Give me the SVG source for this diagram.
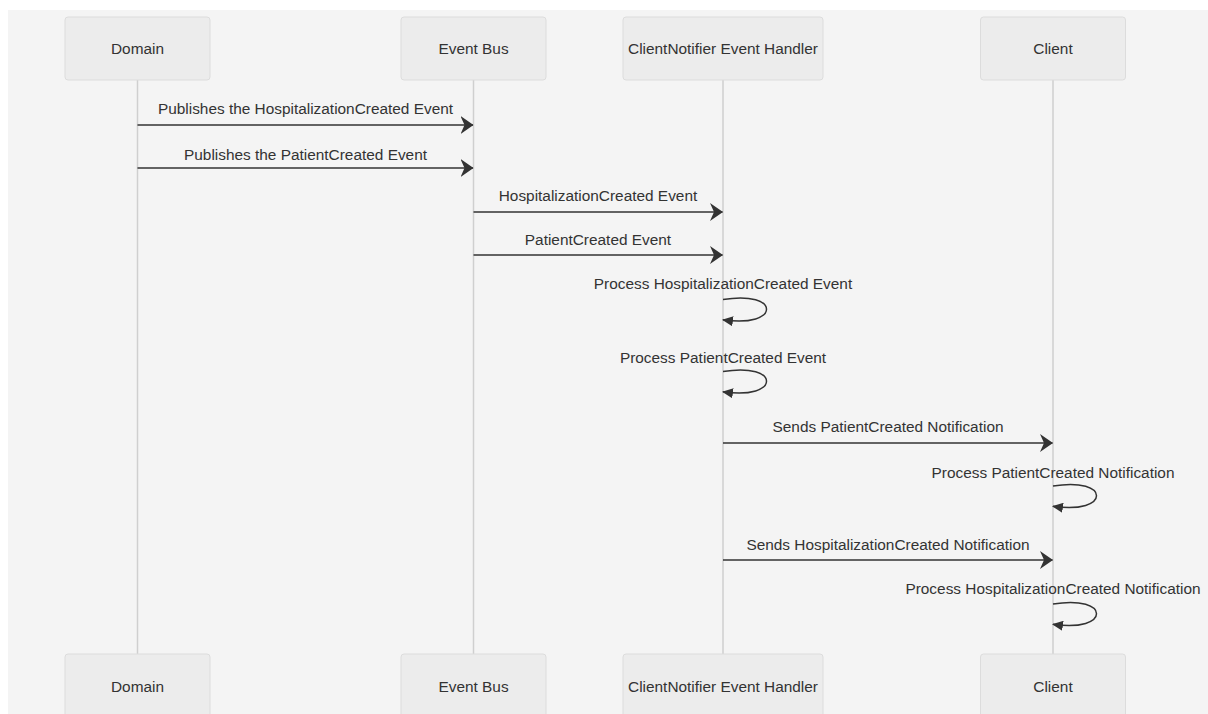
<svg xmlns="http://www.w3.org/2000/svg" width="1208" height="714" viewBox="0 0 1208 714">
  <style>
    .actor { fill: #ececec; stroke: #dcdcdc; stroke-width: 1; }
    .actor-label { font-family: "Liberation Sans", Arial, sans-serif; font-size: 15.4px; fill: #333333; text-anchor: middle; }
    .lifeline { stroke: #cfcfcf; stroke-width: 1.5; }
    .msg { stroke: #333333; stroke-width: 1.5; fill: none; }
    .msg-label { font-family: "Liberation Sans", Arial, sans-serif; font-size: 15.4px; fill: #333333; text-anchor: middle; }
  </style>
  <defs>
    <marker id="arrowhead" markerUnits="userSpaceOnUse" viewBox="0 0 13 18" refX="12.5" refY="9" markerWidth="13" markerHeight="18" orient="auto">
      <path d="M0,0 L13,9 L0,18 L4,9 z" fill="#333333"/>
    </marker>
    <marker id="loophead" markerUnits="userSpaceOnUse" viewBox="0 0 11 10" refX="10" refY="5" markerWidth="11" markerHeight="10" orient="auto">
      <path d="M0,0 L11,5 L0,10 z" fill="#333333"/>
    </marker>
  </defs>

  <!-- canvas -->
  <rect x="0" y="0" width="1208" height="714" fill="#ffffff"/>
  <rect x="8" y="10" width="1200" height="704" fill="#f4f4f4"/>

  <!-- lifelines -->
  <g id="lifelines">
    <line class="lifeline" x1="137.5" y1="80" x2="137.5" y2="654"/>
    <line class="lifeline" x1="473.5" y1="80" x2="473.5" y2="654"/>
    <line class="lifeline" x1="723" y1="80" x2="723" y2="654"/>
    <line class="lifeline" x1="1053" y1="80" x2="1053" y2="654"/>
  </g>

  <!-- participants, top row -->
  <g id="actor-domain-top">
    <rect class="actor" x="65" y="17" width="145" height="63" rx="3"/>
    <text class="actor-label" x="137.5" y="54">Domain</text>
  </g>
  <g id="actor-eventbus-top">
    <rect class="actor" x="401" y="17" width="145" height="63" rx="3"/>
    <text class="actor-label" x="473.5" y="54">Event Bus</text>
  </g>
  <g id="actor-handler-top">
    <rect class="actor" x="623" y="17" width="200" height="63" rx="3"/>
    <text class="actor-label" x="723" y="54">ClientNotifier Event Handler</text>
  </g>
  <g id="actor-client-top">
    <rect class="actor" x="980.5" y="17" width="145" height="63" rx="3"/>
    <text class="actor-label" x="1053" y="54">Client</text>
  </g>

  <!-- participants, bottom row -->
  <g id="actor-domain-bottom">
    <rect class="actor" x="65" y="654" width="145" height="63" rx="3"/>
    <text class="actor-label" x="137.5" y="691.5">Domain</text>
  </g>
  <g id="actor-eventbus-bottom">
    <rect class="actor" x="401" y="654" width="145" height="63" rx="3"/>
    <text class="actor-label" x="473.5" y="691.5">Event Bus</text>
  </g>
  <g id="actor-handler-bottom">
    <rect class="actor" x="623" y="654" width="200" height="63" rx="3"/>
    <text class="actor-label" x="723" y="691.5">ClientNotifier Event Handler</text>
  </g>
  <g id="actor-client-bottom">
    <rect class="actor" x="980.5" y="654" width="145" height="63" rx="3"/>
    <text class="actor-label" x="1053" y="691.5">Client</text>
  </g>

  <!-- messages -->
  <g id="connectors">
    <text class="msg-label" x="305.5" y="114">Publishes the HospitalizationCreated Event</text>
    <line class="msg" x1="137.5" y1="125" x2="473" y2="125" marker-end="url(#arrowhead)"/>

    <text class="msg-label" x="305.5" y="159.5">Publishes the PatientCreated Event</text>
    <line class="msg" x1="137.5" y1="168" x2="473" y2="168" marker-end="url(#arrowhead)"/>

    <text class="msg-label" x="598" y="201">HospitalizationCreated Event</text>
    <line class="msg" x1="473.5" y1="212" x2="722.5" y2="212" marker-end="url(#arrowhead)"/>

    <text class="msg-label" x="598" y="244.5">PatientCreated Event</text>
    <line class="msg" x1="473.5" y1="255" x2="722.5" y2="255" marker-end="url(#arrowhead)"/>

    <text class="msg-label" x="723" y="289">Process HospitalizationCreated Event</text>
    <path class="msg" d="M723,299.5 C781,289.85 781,328.45 723,319.8" marker-end="url(#loophead)"/>

    <text class="msg-label" x="723" y="362.5">Process PatientCreated Event</text>
    <path class="msg" d="M723,371.5 C781,361.85 781,400.45 723,391.8" marker-end="url(#loophead)"/>

    <text class="msg-label" x="888" y="432">Sends PatientCreated Notification</text>
    <line class="msg" x1="723" y1="443" x2="1052.5" y2="443" marker-end="url(#arrowhead)"/>

    <text class="msg-label" x="1053" y="477.5">Process PatientCreated Notification</text>
    <path class="msg" d="M1053,486 C1111,476.35 1111,514.95 1053,506.3" marker-end="url(#loophead)"/>

    <text class="msg-label" x="888" y="549.5">Sends HospitalizationCreated Notification</text>
    <line class="msg" x1="723" y1="560" x2="1052.5" y2="560" marker-end="url(#arrowhead)"/>

    <text class="msg-label" x="1053" y="594">Process HospitalizationCreated Notification</text>
    <path class="msg" d="M1053,604 C1111,594.35 1111,632.95 1053,624.3" marker-end="url(#loophead)"/>
  </g>
</svg>
